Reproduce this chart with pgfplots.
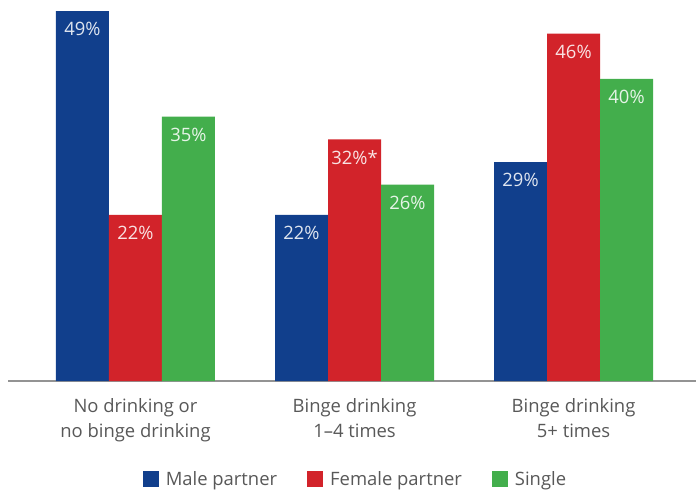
\documentclass[border=0pt]{standalone}
\usepackage{pgfplots}
\pgfplotsset{compat=1.18}
\usepackage{fontspec}
\setmainfont{Open Sans}
\definecolor{cblue}{HTML}{113F8C}
\definecolor{cred}{HTML}{D2232A}
\definecolor{cgreen}{HTML}{43AE4C}
\definecolor{ctext}{HTML}{585858}
\begin{document}
\begin{tikzpicture}
\begin{axis}[
  scale only axis,
  width=688bp, height=381bp,
  xmin=-0.582, xmax=2.559,
  ymin=0, ymax=50.46,
  axis x line*=bottom,
  axis y line=none,
  x axis line style={draw=gray!85, line width=1.3bp, -},
  xtick={0,1,2},
  xticklabels={{No drinking or\\no binge drinking},{Binge drinking\\1--4 times},{Binge drinking\\5+ times}},
  xticklabel style={align=center, font=\fontsize{18.5}{25}\selectfont, text=ctext, yshift=-14bp},
  major tick length=0pt,
  ybar=0pt,
  bar width=53bp,
  point meta=explicit symbolic,
  nodes near coords,
  every node near coord/.append style={anchor=north, yshift=-8bp, font=\fontsize{18.5}{20}\selectfont, text=white, text opacity=0.87},
  legend columns=3,
  legend style={at={(0.505,-0.257)}, anchor=center, draw=none, fill=none,
    font=\fontsize{18.5}{20}\selectfont, text=ctext,
    /tikz/every even column/.append style={column sep=28bp},
    /tikz/every odd column/.append style={column sep=5bp},
    cells={anchor=west}},
  legend image code/.code={\fill[#1] (0bp,-8bp) rectangle (16bp,8bp);},
]
\addplot[fill=cblue, draw=none, bar shift=-53bp] table[meta=l] {
x y l
0 49 49\%
1 22 22\%
2 29 29\%
};
\addlegendentry{Male partner}
\addplot[fill=cred, draw=none, bar shift=0bp] table[meta=l] {
x y l
0 22 22\%
1 32 32\%*
2 46 46\%
};
\addlegendentry{Female partner}
\addplot[fill=cgreen, draw=none, bar shift=53bp] table[meta=l] {
x y l
0 35 35\%
1 26 26\%
2 40 40\%
};
\addlegendentry{Single}
\end{axis}
\pgfresetboundingbox
\path (-8bp,-111bp) rectangle (688bp,381bp);
\end{tikzpicture}
\end{document}
